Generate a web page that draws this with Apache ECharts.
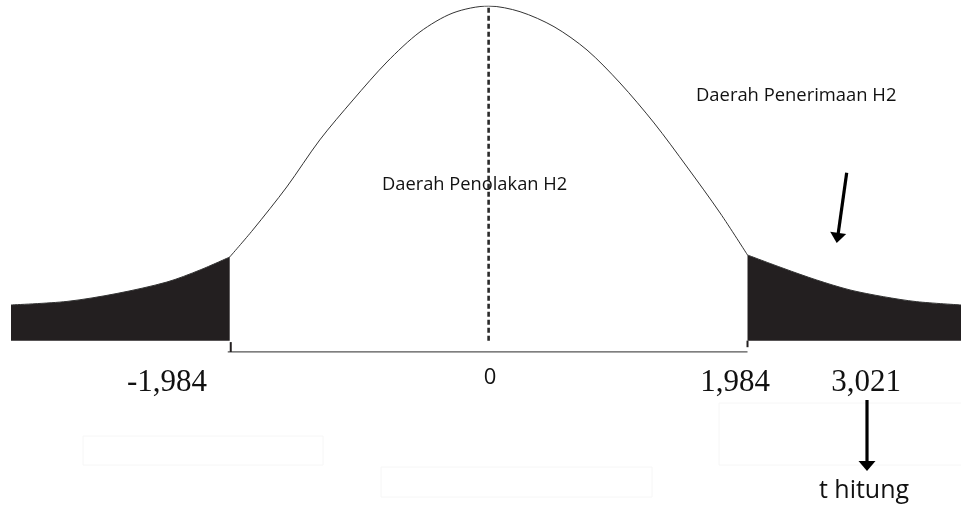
<!DOCTYPE html>
<html>
<head>
<meta charset="utf-8">
<script src="https://cdn.jsdelivr.net/npm/echarts@6/dist/echarts.min.js"></script>
<style>
  html, body { margin: 0; padding: 0; background: #ffffff; }
  #chart { width: 961px; height: 508px; }
</style>
</head>
<body>
<div id="chart"></div>
<script>
// Bell curve outline: [t, height]
const curveLeft = [
  [-1.984, 0.1000], [-1.807, 0.1323], [-1.547, 0.1837], [-1.294, 0.2399],
  [-1.039, 0.2877], [-0.779, 0.3331], [-0.526, 0.3690], [-0.273, 0.3917],
  [0, 0.4000]
];
const curveRight = [
  [0.241, 0.3932], [0.501, 0.3753], [0.754, 0.3474], [1.007, 0.3080],
  [1.268, 0.2602], [1.521, 0.2076], [1.774, 0.1526], [1.984, 0.1024]
];
// Shaded rejection tails
const tailLeft = [
  [-3.66, 0.0427], [-3.231, 0.0469], [-2.848, 0.0564], [-2.465, 0.0701],
  [-2.211, 0.0845], [-1.984, 0.1000]
];
const tailRight = [
  [1.984, 0.1024], [2.258, 0.0865], [2.514, 0.0725], [2.770, 0.0606],
  [3.025, 0.0526], [3.281, 0.0466], [3.62, 0.0427]
];
// Critical values and the computed statistic
const criticalT = [-1.984, 1.984];
const meanT = 0;
const peakHeight = 0.4;
const baseLine = [[-1.999, -0.0135], [1.984, -0.0135]];
const tickMarks = [
  [[-1.976, -0.0017], [-1.976, -0.0135]],
  [[1.984, 0], [1.984, -0.0078]]
];
const tickLabels = ['-1,984', '0', '1,984', '3,021'];
const regionLabels = ['Daerah Penerimaan H2', 'Daerah Penolakan H2'];
const statLabel = 't hitung';

const chart = echarts.init(document.getElementById('chart'));

const INK = '#231f20';
const sans = '"Open Sans", "Noto Sans", sans-serif';
const serif = '"Liberation Serif", "DejaVu Serif", serif';

const series = [
  {
    type: 'line', data: curveLeft.concat(curveRight), smooth: 0.3,
    symbol: 'none', lineStyle: { color: '#333333', width: 1 }, z: 2
  },
  {
    type: 'line', data: tailLeft, smooth: 0.3, symbol: 'none',
    lineStyle: { color: '#333333', width: 1 },
    areaStyle: { color: INK, opacity: 1 }, z: 3
  },
  {
    type: 'line', data: tailRight, smooth: 0.3, symbol: 'none',
    lineStyle: { color: '#333333', width: 1 },
    areaStyle: { color: INK, opacity: 1 }, z: 3
  },
  {
    type: 'line', data: [[meanT, 0], [meanT, peakHeight]], symbol: 'none',
    lineStyle: { color: '#2b2b2b', width: 2.6, type: [5, 3] }, z: 4
  },
  {
    type: 'line', data: baseLine, symbol: 'none',
    lineStyle: { color: '#555555', width: 1.2 }, z: 2
  }
];
tickMarks.forEach(function (seg) {
  series.push({
    type: 'line', data: seg, symbol: 'none',
    lineStyle: { color: INK, width: 2 }, z: 3
  });
});

// label anchors
const labelPos = [[167, 383, serif, 31], [490, 378, sans, 22], [735, 383, serif, 31], [866, 383, serif, 31]];
const graphics = [];
tickLabels.forEach(function (t, i) {
  const p = labelPos[i];
  graphics.push({
    type: 'text', z: 10,
    style: {
      text: t, x: p[0], y: p[1], fill: '#111111',
      font: p[3] + 'px ' + p[2], textAlign: 'center', textVerticalAlign: 'middle'
    }
  });
});
graphics.push(
  { type: 'text', z: 10, style: { text: regionLabels[0], x: 696, y: 96, fill: '#111111',
      font: '18.4px ' + sans, textAlign: 'left', textVerticalAlign: 'middle' } },
  { type: 'text', z: 10, style: { text: regionLabels[1], x: 382, y: 185, fill: '#111111',
      font: '18.3px ' + sans, textAlign: 'left', textVerticalAlign: 'middle' } },
  { type: 'text', z: 10, style: { text: statLabel, x: 864, y: 491, fill: '#111111',
      font: '25px ' + sans, textAlign: 'center', textVerticalAlign: 'middle' } },
  // arrow pointing into the acceptance tail
  { type: 'line', z: 10, shape: { x1: 846.7, y1: 172.7, x2: 838.2, y2: 233.5 },
    style: { stroke: '#000000', lineWidth: 3.2 } },
  { type: 'polygon', z: 10, shape: { points: [[846.2, 233.9], [830.2, 231.7], [836.7, 243]] },
    style: { fill: '#000000' } },
  // arrow from the statistic value down to its caption
  { type: 'line', z: 10, shape: { x1: 867, y1: 400, x2: 867, y2: 462 },
    style: { stroke: '#000000', lineWidth: 3.2 } },
  { type: 'polygon', z: 10, shape: { points: [[858.5, 461], [875.5, 461], [867, 471]] },
    style: { fill: '#000000' } },
  // empty text frames
  { type: 'rect', z: 1, shape: { x: 83, y: 436, width: 240, height: 29 },
    style: { fill: 'none', stroke: '#f6f6f6', lineWidth: 1 } },
  { type: 'rect', z: 1, shape: { x: 381, y: 467, width: 271, height: 30 },
    style: { fill: 'none', stroke: '#f6f6f6', lineWidth: 1 } },
  { type: 'rect', z: 1, shape: { x: 719, y: 403, width: 250, height: 62 },
    style: { fill: 'none', stroke: '#f6f6f6', lineWidth: 1 } }
);

chart.setOption({
  animation: false,
  backgroundColor: '#ffffff',
  grid: { left: 11, right: 0, top: 6, bottom: 0 },
  xAxis: {
    type: 'value', min: -3.66, max: 3.62, show: false
  },
  yAxis: {
    type: 'value', min: -0.2, max: 0.4, show: false
  },
  series: series,
  graphic: graphics
});
</script>
</body>
</html>
